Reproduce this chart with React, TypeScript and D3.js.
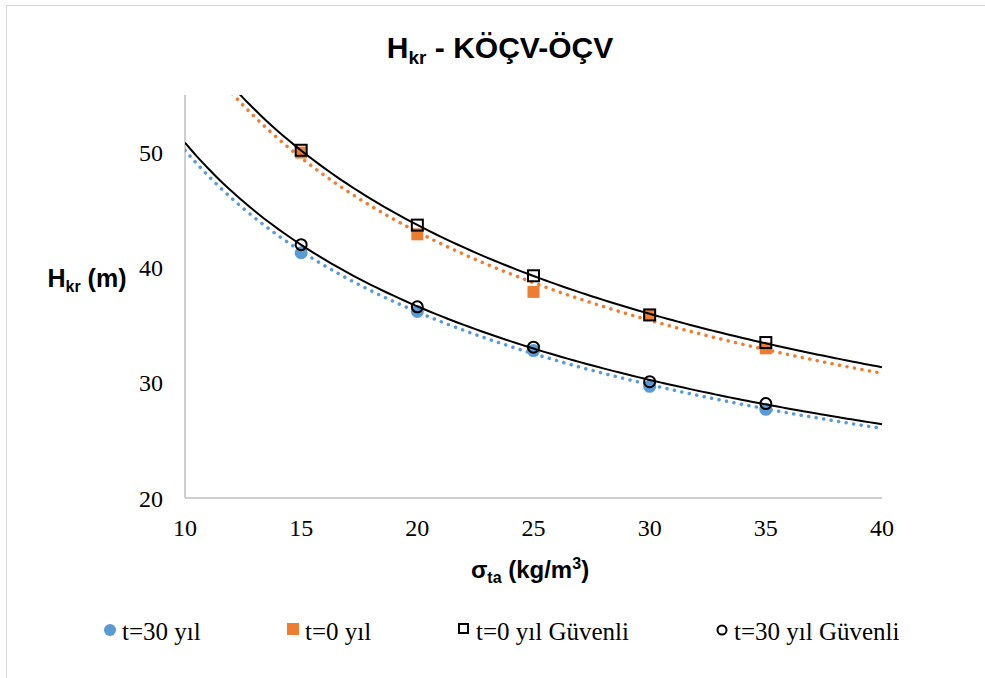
import React from "react";
import * as d3 from "d3";

const xCategories = [15, 20, 25, 30, 35];
const t30 = [41.3, 36.2, 32.8, 29.7, 27.7];
const t0 = [50.0, 42.9, 37.9, 35.9, 33.0];
const t0Safe = [50.2, 43.7, 39.3, 35.9, 33.5];
const t30Safe = [42.0, 36.6, 33.1, 30.1, 28.2];
const xTicks = [10, 15, 20, 25, 30, 35, 40];
const yTicks = [20, 30, 40, 50];

const W = 985, H = 678;
const M = { left: 185, right: 882, top: 95, bottom: 498 };

function powerFit(xs: number[], ys: number[]) {
  const lx = xs.map(Math.log), ly = ys.map(Math.log);
  const mx = d3.mean(lx)!, my = d3.mean(ly)!;
  let num = 0, den = 0;
  lx.forEach((v, i) => { num += (v - mx) * (ly[i] - my); den += (v - mx) ** 2; });
  const b = num / den;
  const a = Math.exp(my - b * mx);
  return (x: number) => a * Math.pow(x, b);
}

export default function App() {
  const x = d3.scaleLinear().domain([10, 40]).range([M.left, M.right]);
  const y = d3.scaleLinear().domain([20, 55]).range([M.bottom, M.top]);
  const samples = d3.range(10, 40.0001, 0.25);
  const line = d3.line<number[]>().x(d => x(d[0])).y(d => y(d[1])).curve(d3.curveMonotoneX);
  const trend = (ys: number[]) => {
    const f = powerFit(xCategories, ys);
    return line(samples.map(s => [s, f(s)]))!;
  };
  const serif = "'Liberation Serif', 'Times New Roman', serif";
  const sans = "'Liberation Sans', Arial, sans-serif";
  const blue = "#5b9bd5", orange = "#ed7d31";

  return (
    <div style={{ position: "absolute", left: 0, top: 0 }}>
      <svg width={W} height={H} style={{ display: "block" }}>
        <rect x={0} y={0} width={W} height={H} fill="#fff" />
        <rect x={6.5} y={5.5} width={W + 10} height={H + 10} fill="none" stroke="#d9d9d9" strokeWidth={1} />
        <defs>
          <clipPath id="plot">
            <rect x={M.left} y={M.top} width={M.right - M.left + 2} height={M.bottom - M.top} />
          </clipPath>
        </defs>
        <text x={500} y={58} textAnchor="middle" fontFamily={sans} fontWeight="bold" fontSize={30}>
          H<tspan fontSize={19} dy={6}>kr</tspan><tspan dy={-6}> - KÖÇV-ÖÇV</tspan>
        </text>
        {/* axes */}
        <line x1={M.left} x2={M.left} y1={M.top} y2={M.bottom} stroke="#bfbfbf" strokeWidth={1.5} />
        <line x1={M.left} x2={M.right} y1={M.bottom} y2={M.bottom} stroke="#bfbfbf" strokeWidth={1.5} />
        {yTicks.map(t => (
          <text key={t} x={163} y={y(t) + 8.5} textAnchor="end" fontFamily={serif} fontSize={24}>{t}</text>
        ))}
        {xTicks.map(t => (
          <text key={t} x={x(t)} y={536} textAnchor="middle" fontFamily={serif} fontSize={24}>{t}</text>
        ))}
        <text x={87} y={287} textAnchor="middle" fontFamily={sans} fontWeight="bold" fontSize={25}>
          H<tspan fontSize={16} dy={5}>kr</tspan><tspan dy={-5}> (m)</tspan>
        </text>
        <text x={530} y={578} textAnchor="middle" fontFamily={sans} fontWeight="bold" fontSize={24}>
          σ<tspan fontSize={16} dy={5}>ta</tspan><tspan dy={-5}> (kg/m</tspan><tspan fontSize={16} dy={-9}>3</tspan><tspan dy={9}>)</tspan>
        </text>
        {/* markers */}
        {xCategories.map((c, i) => (
          <circle key={"b" + c} cx={x(c)} cy={y(t30[i])} r={6.5} fill={blue} />
        ))}
        {xCategories.map((c, i) => (
          <rect key={"o" + c} x={x(c) - 6} y={y(t0[i]) - 6} width={12} height={12} fill={orange} />
        ))}
        {/* trendlines */}
        <g clipPath="url(#plot)" fill="none">
          <path d={trend(t30)} stroke={blue} strokeWidth={3.5} strokeDasharray="0.1 7.5" strokeLinecap="round" />
          <path d={trend(t0)} stroke={orange} strokeWidth={3.5} strokeDasharray="0.1 7.5" strokeLinecap="round" />
          <path d={trend(t0Safe)} stroke="#000" strokeWidth={2} />
          <path d={trend(t30Safe)} stroke="#000" strokeWidth={2} />
        </g>
        {xCategories.map((c, i) => (
          <rect key={"s" + c} x={x(c) - 5.5} y={y(t0Safe[i]) - 5.5} width={11} height={11} fill="none" stroke="#000" strokeWidth={2} />
        ))}
        {xCategories.map((c, i) => (
          <circle key={"c" + c} cx={x(c)} cy={y(t30Safe[i])} r={5.5} fill="none" stroke="#000" strokeWidth={2} />
        ))}
        {/* legend */}
        <g fontFamily={serif} fontSize={25}>
          <circle cx={110} cy={630} r={6} fill={blue} />
          <text x={122} y={640}>t=30 yıl</text>
          <rect x={287} y={623} width={12} height={12} fill={orange} />
          <text x={305} y={640}>t=0 yıl</text>
          <rect x={459} y={624} width={9} height={9} fill="none" stroke="#000" strokeWidth={2} />
          <text x={476} y={640}>t=0 yıl Güvenli</text>
          <circle cx={722} cy={630} r={4.5} fill="none" stroke="#000" strokeWidth={2} />
          <text x={734} y={640}>t=30 yıl Güvenli</text>
        </g>
      </svg>
    </div>
  );
}
